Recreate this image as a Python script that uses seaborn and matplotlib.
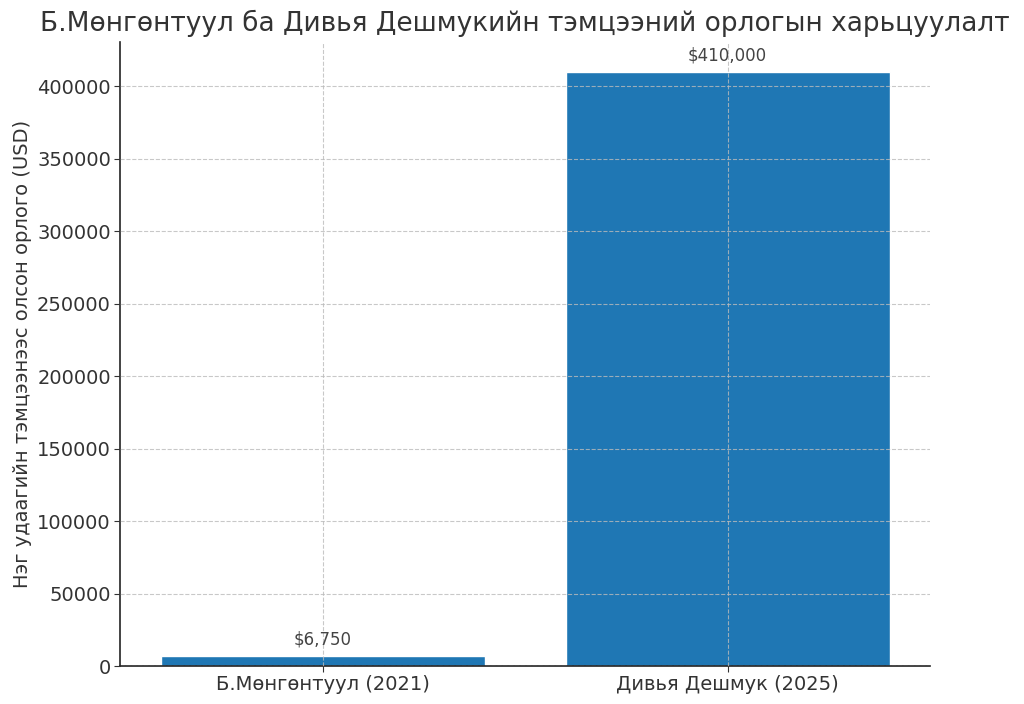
import matplotlib
matplotlib.use("Agg")
import matplotlib.pyplot as plt
import seaborn as sns
import pandas as pd

# ── Data ─────────────────────────────────────────────
players = ["Б.Мөнгөнтуул (2021)", "Дивья Дешмук (2025)"]
earnings = [6750, 410000]
labels = ["$6,750", "$410,000"]

df = pd.DataFrame({"Player": players, "Earnings": earnings})

# ── Plot ─────────────────────────────────────────────
sns.set_style("white")
plt.rcParams['font.family'] = ['DejaVu Sans']
plt.rcParams['text.color'] = '#333333'
plt.rcParams['axes.labelcolor'] = '#333333'
plt.rcParams['xtick.color'] = '#333333'
plt.rcParams['ytick.color'] = '#333333'

fig = plt.figure(figsize=(10.24, 7.04), dpi=100)
ax = fig.add_axes([120 / 1024, 1 - 666 / 704, 810 / 1024, 624 / 704])
sns.barplot(data=df, x="Player", y="Earnings", color="#1f77b4",
            saturation=1, width=0.8, ax=ax)

for i, (val, lab) in enumerate(zip(earnings, labels)):
    ax.text(i, val + 5000, lab, ha='center', va='bottom',
            fontsize=12, color='#444444')

ax.set_title("Б.Мөнгөнтуул ба Дивья Дешмукийн тэмцээний орлогын харьцуулалт",
             fontsize=19, color='#333333', pad=8)
ax.set_xlabel("")
ax.set_ylabel("Нэг удаагийн тэмцээнээс олсон орлого (USD)", fontsize=14, labelpad=4)
ax.tick_params(axis='both', labelsize=14, direction='out', length=4, pad=2.5,
               left=True, bottom=True)
ax.grid(True, linestyle='--', color='#bbbbbb', linewidth=0.8, alpha=0.8)
ax.set_axisbelow(False)
sns.despine(ax=ax)
for s in ['left', 'bottom']:
    ax.spines[s].set_color('#222222')
    ax.spines[s].set_linewidth(1.2)

plt.savefig("out.png", dpi=100)
